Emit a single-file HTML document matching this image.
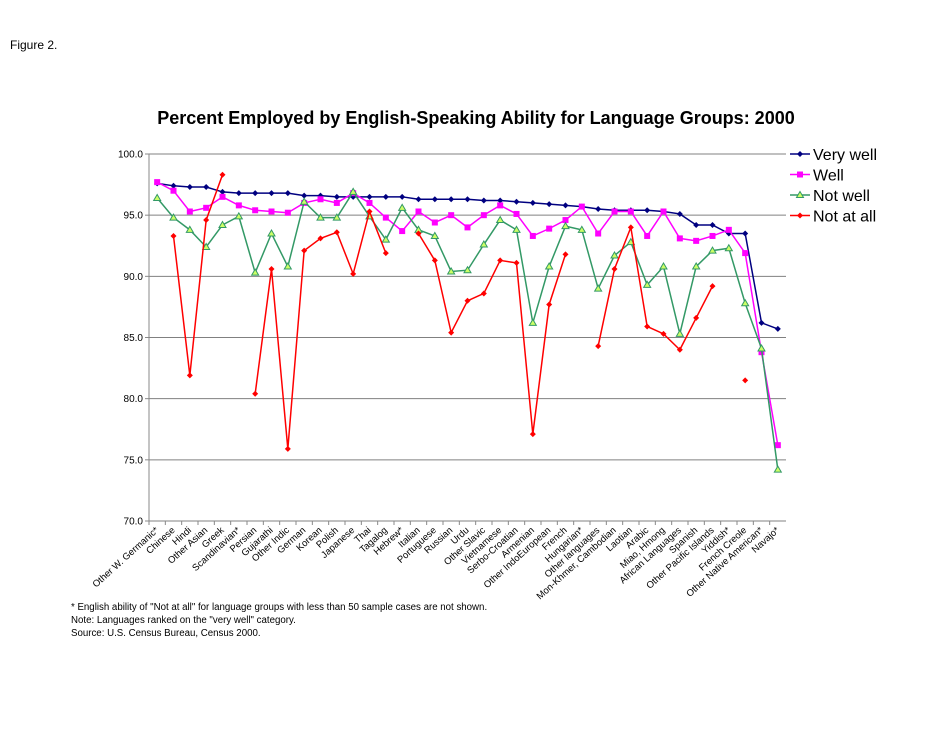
<!DOCTYPE html>
<html><head><meta charset="utf-8"><style>
body{margin:0;background:#fff;font-family:"Liberation Sans",Arial,sans-serif}
svg{display:block}
</style></head><body>
<svg id="c" width="950" height="733" xmlns="http://www.w3.org/2000/svg" font-family="Liberation Sans, Arial, sans-serif">
<text x="10" y="49" font-size="12">Figure 2.</text>
<text x="476" y="124" font-size="18" font-weight="bold" text-anchor="middle">Percent Employed by English-Speaking Ability for Language Groups: 2000</text>
<g id="grid"></g><g id="xlab"></g><g id="series"></g><g id="legend"></g>
<text x="71" y="610" font-size="9.7">* English ability of "Not at all" for language groups with less than 50 sample cases are not shown.</text>
<text x="71" y="623" font-size="9.7">Note: Languages ranked on the "very well" category.</text>
<text x="71" y="636" font-size="9.7">Source: U.S. Census Bureau, Census 2000.</text>
</svg>
<script>
const categories=["Other W. Germanic*","Chinese","Hindi","Other Asian","Greek","Scandinavian*","Persian","Gujarathi","Other Indic","German","Korean","Polish","Japanese","Thai","Tagalog","Hebrew*","Italian","Portuguese","Russian","Urdu","Other Slavic","Vietnamese","Serbo-Croatian","Armenian","Other IndoEuropean","French","Hungarian*","Other languages","Mon-Khmer, Cambodian","Laotian","Arabic","Miao, Hmong","African Languages","Spanish","Other Pacific Islands","Yiddish*","French Creole","Other Native American*","Navajo*"];
const veryWell=[97.6,97.4,97.3,97.3,96.9,96.8,96.8,96.8,96.8,96.6,96.6,96.5,96.5,96.5,96.5,96.5,96.3,96.3,96.3,96.3,96.2,96.2,96.1,96.0,95.9,95.8,95.7,95.5,95.4,95.4,95.4,95.3,95.1,94.2,94.2,93.5,93.5,86.2,85.7];
const well=[97.7,97.0,95.3,95.6,96.5,95.8,95.4,95.3,95.2,96.0,96.3,96.0,96.8,96.0,94.8,93.7,95.3,94.4,95.0,94.0,95.0,95.8,95.1,93.3,93.9,94.6,95.7,93.5,95.3,95.3,93.3,95.3,93.1,92.9,93.3,93.8,91.9,83.8,76.2];
const notWell=[96.4,94.8,93.8,92.4,94.2,94.9,90.3,93.5,90.8,96.1,94.8,94.8,96.9,94.9,93.0,95.6,93.8,93.3,90.4,90.5,92.6,94.6,93.8,86.2,90.8,94.1,93.8,89.0,91.7,92.8,89.3,90.8,85.3,90.8,92.1,92.3,87.8,84.1,74.2];
const notAtAll=[null,93.3,81.9,94.6,98.3,null,80.4,90.6,75.9,92.1,93.1,93.6,90.2,95.3,91.9,null,93.5,91.3,85.4,88.0,88.6,91.3,91.1,77.1,87.7,91.8,null,84.3,90.6,94.0,85.9,85.3,84.0,86.6,89.2,null,81.5,null,null];
const yTicks=[70,75,80,85,90,95,100];
const seriesNames=["Very well","Well","Not well","Not at all"];

const NS="http://www.w3.org/2000/svg";
const L=149,R=786,T=154,B=521;
const step=(R-L)/categories.length;
const xS=i=>L+step*(i+0.5);
const yS=v=>B-(v-70)/30*(B-T);
function mk(tag,attrs,parent){const e=document.createElementNS(NS,tag);for(const k in attrs)e.setAttribute(k,attrs[k]);parent.appendChild(e);return e;}
const grid=document.getElementById('grid');
yTicks.forEach(t=>{
  const ln=mk('line',{x1:L,x2:R,y1:yS(t),y2:yS(t),stroke:'#808080','stroke-width':1},grid);
  
  
  mk('line',{x1:L-4,x2:L,y1:yS(t),y2:yS(t),stroke:'#888'},grid);
  const tx=mk('text',{x:L-6,y:yS(t)+3.5,'font-size':10,'text-anchor':'end'},grid);
  tx.textContent=t.toFixed(1);
  
  
});
const ax=mk('line',{x1:L,x2:L,y1:T,y2:B,stroke:'#888'},grid);


const xl=document.getElementById('xlab');
categories.forEach((c,i)=>{
  mk('line',{x1:L+step*i,x2:L+step*i,y1:B,y2:B+4,stroke:'#888'},xl);
  const x=xS(i)+2,y=B+10;
  const tx=mk('text',{x:x,y:y,'font-size':9.5,'text-anchor':'end',transform:`rotate(-42 ${x} ${y})`},xl);
  tx.textContent=c;
  
  
});
const sg=document.getElementById('series');
const cols=['#000080','#ff00ff','#339966','#ff0000'];
const data=[veryWell,well,notWell,notAtAll];
function marker(k,x,y,p){
  if(k===0||k===3) return mk('path',{d:`M${x} ${y-3}L${x+3} ${y}L${x} ${y+3}L${x-3} ${y}Z`,fill:cols[k]},p);
  if(k===1) return mk('rect',{x:x-3,y:y-3,width:6,height:6,fill:cols[k]},p);
  return mk('path',{d:`M${x} ${y-3.5}L${x+3.5} ${y+2.5}L${x-3.5} ${y+2.5}Z`,fill:'#ccff66',stroke:cols[k],'stroke-width':1},p);
}
data.forEach((arr,k)=>{
  const g=mk('g',{},sg);
  
  
  let d='',pen=false;
  arr.forEach((v,i)=>{ if(v==null){pen=false;return;} d+=(pen?'L':'M')+xS(i)+' '+yS(v); pen=true; });
  mk('path',{d:d,fill:'none',stroke:cols[k],'stroke-width':1.5},g);
  arr.forEach((v,i)=>{ if(v==null)return; const m=marker(k,xS(i),yS(v),g);
    
     });
});
const lg=document.getElementById('legend');
seriesNames.forEach((n,k)=>{
  const y=154+k*20.5;
  const g=mk('g',{},lg);
  
  
  mk('line',{x1:790,x2:810,y1:y,y2:y,stroke:cols[k],'stroke-width':1.5},g);
  marker(k,800,y,g);
  const t=mk('text',{x:813,y:y+6,'font-size':16},g);
  t.textContent=n;
});
</script>
</body></html>
